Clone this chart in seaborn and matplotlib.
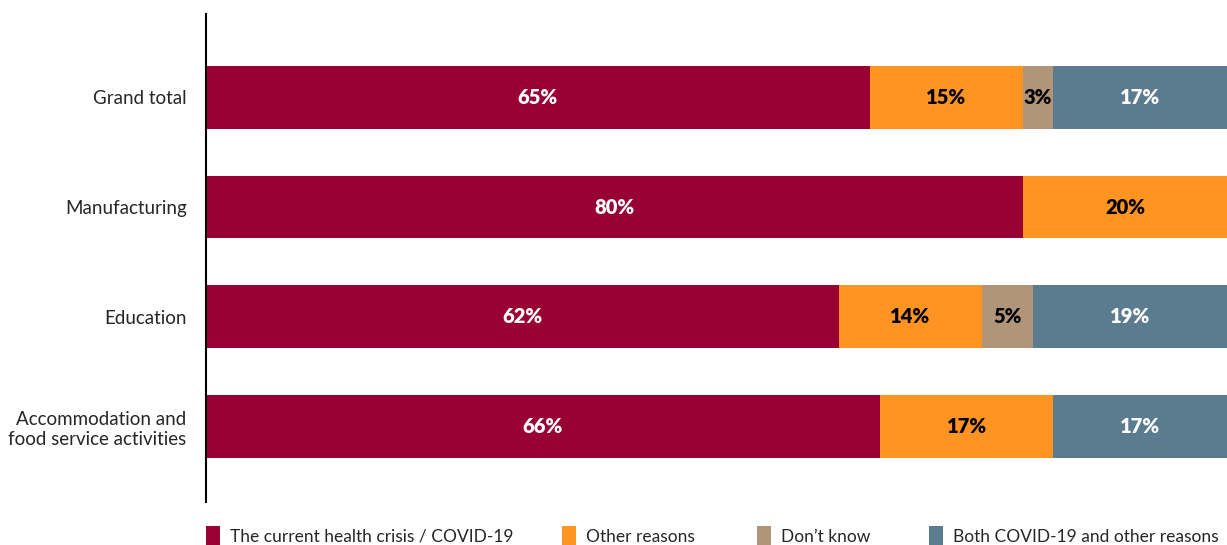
import numpy as np
import pandas as pd
import matplotlib
matplotlib.use("Agg")
import matplotlib.pyplot as plt
from matplotlib.patches import Patch
import seaborn as sns

categories = ["Grand total", "Manufacturing", "Education",
              "Accommodation and\nfood service activities"]
series = ["The current health crisis / COVID-19", "Other reasons",
          "Don\u2019t know", "Both COVID-19 and other reasons"]
covid = [65, 80, 62, 66]
other = [15, 20, 14, 17]
dont_know = [3, 0, 5, 0]
both = [17, 0, 19, 17]

colors = ["#990033", "#FF9422", "#B09579", "#5B7C8F"]
text_colors = ["white", "black", "black", "white"]

sns.set_theme(style="white")
plt.rcParams["font.family"] = ["Lato", "DejaVu Sans"]

fig = plt.figure(figsize=(12.27, 5.45), dpi=100)
ax = fig.add_axes([206 / 1227, 1 - 502 / 545, 1 - 206 / 1227, (502 - 14) / 545])

values = np.array([covid, other, dont_know, both], dtype=float)
cum = values.cumsum(axis=0)

# layered bars: draw cumulative totals from the outermost segment inward
for i in range(len(series) - 1, -1, -1):
    df = pd.DataFrame({"cat": categories, "val": cum[i]})
    sns.barplot(data=df, y="cat", x="val", orient="h", color=colors[i],
                saturation=1, width=0.57, ax=ax, linewidth=0)

for i in range(len(series)):
    for j in range(len(categories)):
        v = values[i, j]
        if v <= 0:
            continue
        center = cum[i, j] - v / 2
        ax.text(center, j, f"{int(v)}%", ha="center", va="center",
                color=text_colors[i], fontsize=14.5, fontweight="heavy")

ax.set_xlim(0, 100)
ax.set_ylim(3.69, -0.76)
ax.set_xlabel("")
ax.set_ylabel("")
ax.set_xticks([])
ax.tick_params(axis="y", length=0, labelsize=13.5, pad=14)
for lbl in ax.get_yticklabels():
    lbl.set_multialignment("right")
for s in ["top", "right", "bottom"]:
    ax.spines[s].set_visible(False)
ax.spines["left"].set_color("black")
ax.spines["left"].set_linewidth(1.5)

# one legend entry per series, laid out along the bottom edge
legend_x = [206, 562, 757, 929]
for c, name, x in zip(colors, series, legend_x):
    fig.legend([Patch(facecolor=c, edgecolor="none")], [name],
               loc="center left", bbox_to_anchor=(x / 1227, 1 - 536 / 545),
               frameon=False, fontsize=12.5, handlelength=0.8,
               handleheight=1.4, handletextpad=0.6, borderpad=0,
               borderaxespad=0)

fig.savefig("out.png", dpi=100)
